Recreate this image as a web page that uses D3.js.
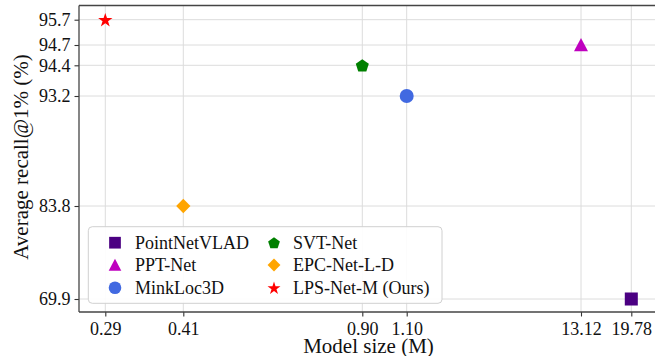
<!DOCTYPE html>
<html><head><meta charset="utf-8">
<script src="https://cdn.jsdelivr.net/npm/d3@7"></script>
<style>
html,body{margin:0;padding:0;background:#fff;}
svg{display:block;font-family:"Liberation Serif","Times New Roman",serif;}
</style></head>
<body><svg id="c" width="655" height="356"></svg>
<script>
// ---- data ----
const models = ["PointNetVLAD","PPT-Net","MinkLoc3D","SVT-Net","EPC-Net-L-D","LPS-Net-M (Ours)"];
const sizes  = [19.78, 13.12, 1.10, 0.90, 0.41, 0.29];
const recall = [69.9, 94.7, 93.2, 94.4, 83.8, 95.7];
const markers = ["square","triangle","circle","pentagon","diamond","star"];
const colors = ["#4b0082","#bf00bf","#4169e1","#008000","#ffa500","#ff0000"];
const xTicks = [0.29, 0.41, 0.90, 1.10, 13.12, 19.78];
const yTicks = [95.7, 94.7, 94.4, 93.2, 83.8, 69.9];
const xTickLabels = ["0.29","0.41","0.90","1.10","13.12","19.78"];
const yTickLabels = ["95.7","94.7","94.4","93.2","83.8","69.9"];

// ---- layout ----
const L = 79, T = 5.5, B = 312, R = 660;
const xPos = [105.3, 183.3, 362.3, 406.7, 581, 631.3];
const yPos = [19.7, 45, 65.3, 96, 206, 299];
const x = d3.scaleLinear().domain(xTicks).range(xPos);
const y = d3.scaleLinear().domain(yTicks.slice().reverse()).range(yPos.slice().reverse());

const svg = d3.select("#c");
const font = '"Liberation Serif","Times New Roman",serif';

function shapePath(type, r){
  const p = d3.path();
  if(type==="circle"){ p.arc(0,0,r,0,2*Math.PI); }
  else if(type==="square"){ const h=r*0.93; p.rect(-h,-h,2*h,2*h); }
  else if(type==="triangle"){ p.moveTo(0,-r); p.lineTo(-r,r*0.9); p.lineTo(r,r*0.9); p.closePath(); }
  else if(type==="diamond"){ const h=r*1.02; p.moveTo(0,-h); p.lineTo(h,0); p.lineTo(0,h); p.lineTo(-h,0); p.closePath(); }
  else if(type==="pentagon"){ const rr=r*0.98; for(let i=0;i<5;i++){const a=-Math.PI/2+i*2*Math.PI/5; const px=rr*Math.cos(a), py=rr*Math.sin(a)+rr*0.1; i?p.lineTo(px,py):p.moveTo(px,py);} p.closePath(); }
  else if(type==="star"){ const ro=r*1.08, ri=ro*0.382; for(let i=0;i<10;i++){const a=-Math.PI/2+i*Math.PI/5; const rad=i%2?ri:ro; const px=rad*Math.cos(a), py=rad*Math.sin(a)+ro*0.1; i?p.lineTo(px,py):p.moveTo(px,py);} p.closePath(); }
  return p.toString();
}

// grid
svg.append("g").selectAll("line").data(xTicks).join("line")
  .attr("x1",d=>x(d)).attr("x2",d=>x(d)).attr("y1",T).attr("y2",B)
  .attr("stroke","#dcdcdc").attr("stroke-width",1);
svg.append("g").selectAll("line").data(yTicks).join("line")
  .attr("x1",L).attr("x2",R).attr("y1",d=>y(d)).attr("y2",d=>y(d))
  .attr("stroke","#dcdcdc").attr("stroke-width",1);

// axes
const xAxis = d3.axisBottom(x).tickValues(xTicks).tickFormat((d,i)=>xTickLabels[i]).tickSizeOuter(0).tickSize(4.5).tickPadding(6);
const gx = svg.append("g").attr("transform",`translate(0,${B})`).call(xAxis);
const yAxis = d3.axisLeft(y).tickValues(yTicks).tickFormat((d,i)=>yTickLabels[i]).tickSizeOuter(0).tickSize(4.5).tickPadding(4);
const gy = svg.append("g").attr("transform",`translate(${L},0)`).call(yAxis);
[gx,gy].forEach(g=>{
  g.select(".domain").remove();
  g.selectAll(".tick line").attr("stroke","#333").attr("stroke-width",1.1);
  g.selectAll(".tick text").attr("fill","#111").style("font-family",font).style("font-size","18px");
});

// spines
svg.append("line").attr("x1",L).attr("x2",R).attr("y1",B).attr("y2",B).attr("stroke","#444").attr("stroke-width",1.3);
svg.append("line").attr("x1",L).attr("x2",R).attr("y1",T).attr("y2",T).attr("stroke","#444").attr("stroke-width",1.3);
svg.append("line").attr("x1",L).attr("x2",L).attr("y1",T).attr("y2",B).attr("stroke","#444").attr("stroke-width",1.3);

// titles
svg.append("text").attr("x",368.5).attr("y",352.5).attr("text-anchor","middle")
  .style("font-family",font).style("font-size","21px").attr("fill","#111").text("Model size (M)");
svg.append("text").attr("transform","translate(28,157) rotate(-90)").attr("text-anchor","middle")
  .style("font-family",font).style("font-size","21px").attr("fill","#111").text("Average recall@1% (%)");

// points
svg.append("g").selectAll("path").data(models).join("path")
  .attr("transform",(d,i)=>`translate(${x(sizes[i])},${y(recall[i])})`)
  .attr("d",(d,i)=>shapePath(markers[i],7))
  .attr("fill",(d,i)=>colors[i]);

// legend
const lg = svg.append("g");
lg.append("rect").attr("x",88.3).attr("y",226.7).attr("width",353.7).attr("height",76.6).attr("rx",4)
  .attr("fill","#fff").attr("fill-opacity",0.9).attr("stroke","#d0d0d0").attr("stroke-width",1);
const colX = [115, 274], textX = [135, 293], rowY = [242.7, 265, 287.7];
models.forEach((m,i)=>{
  const c = Math.floor(i/3), r = i%3;
  lg.append("path").attr("transform",`translate(${colX[c]},${rowY[r]})`)
    .attr("d",shapePath(markers[i],6.3)).attr("fill",colors[i]);
  lg.append("text").attr("x",textX[c]).attr("y",rowY[r]).attr("dy","0.33em")
    .style("font-family",font).style("font-size","18px").attr("fill","#111").text(m);
});
</script></body></html>
